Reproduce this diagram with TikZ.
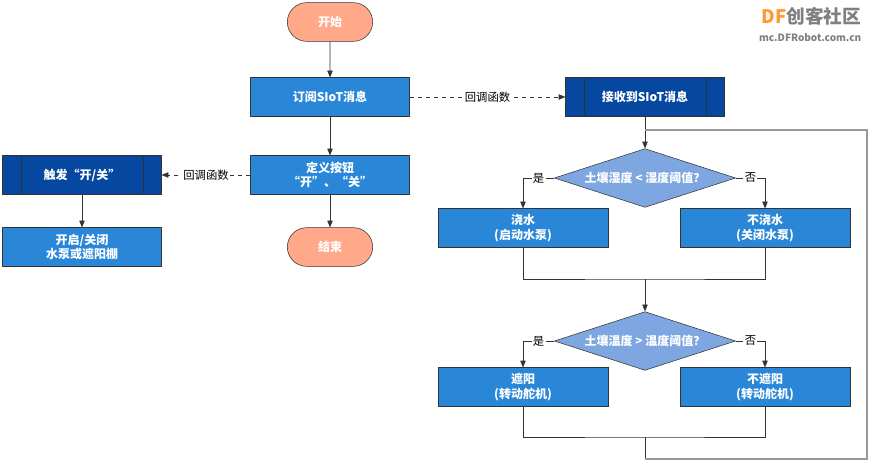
\documentclass[tikz,border=0pt]{standalone}
\usepackage{fontspec}
\setmainfont{Noto Sans CJK SC}
\usetikzlibrary{positioning}
\usetikzlibrary{shapes.geometric}
\usetikzlibrary{shapes.misc}
\usetikzlibrary{arrows.meta}
\definecolor{boxblue}{RGB}{42,135,216}
\definecolor{darkblue}{RGB}{6,72,160}
\definecolor{salmon}{RGB}{255,169,138}
\definecolor{diablue}{RGB}{126,166,224}
\definecolor{edgegray}{RGB}{51,51,51}
\tikzset{
    proc/.style={
        rectangle,              % 普通处理框
        fill=boxblue,
        draw=edgegray,
        text=white,
        align=center,
        font=\fontsize{9}{11}\selectfont\bfseries,
        minimum width=119pt,
        minimum height=29pt,
        inner sep=0
    },
    subproc/.style={
        proc,                   % 预定义过程
        fill=darkblue
    },
    term/.style={
        rounded rectangle,      % 开始/结束
        fill=salmon,
        draw=edgegray,
        text=white,
        font=\fontsize{9}{11}\selectfont\bfseries,
        minimum width=64pt,
        minimum height=29pt,
        inner sep=0
    },
    judge/.style={
        diamond,                % 判断框
        fill=diablue,
        draw=edgegray,
        text=white,
        font=\fontsize{9}{11}\selectfont\bfseries,
        aspect=3.1,
        inner sep=-6pt,
        minimum width=136pt,
        minimum height=44pt
    },
    link/.style={draw=edgegray, -{Triangle[length=5pt,width=4pt]}},
    loopline/.style={draw=gray!80, line width=0.8pt},
    lab/.style={fill=white, inner sep=1pt, font=\fontsize{8.5}{10}\selectfont}
}

\begin{document}
\begin{tikzpicture}[x=0.75pt, y=-0.75pt]
\useasboundingbox (0,0) rectangle (870,466);

% 主流程
\node[term] (start) at (330,22) {开始};
\node[proc] (sub) at (330,97) {订阅SIoT消息};
\node[proc] (define) at (330,175) {定义按钮\\“开”、“关”};
\node[term] (stop) at (330,247) {结束};

% 按钮回调
\node[subproc] (trigger) at (82,175) {触发“开/关”};
\node[proc] (switch) at (82,247) {开启/关闭\\水泵或遮阳棚};

% 消息回调
\node[subproc] (recv) at (645,97) {接收到SIoT消息};
\node[judge] (d1) at (645,178) {土壤湿度 < 湿度阈值？};
\node[proc, minimum width=127.5pt] (water) at (523,228) {浇水\\(启动水泵)};
\node[proc, minimum width=127.5pt] (nowater) at (765,228) {不浇水\\(关闭水泵)};
\node[judge] (d2) at (645,341) {土壤温度 > 温度阈值？};
\node[proc, minimum width=127.5pt] (shade) at (523,387) {遮阳\\(转动舵机)};
\node[proc, minimum width=127.5pt] (noshade) at (765,387) {不遮阳\\(转动舵机)};

% 预定义过程的竖线
\foreach \n in {trigger, recv}{
    \draw[edgegray] ([xshift=14pt]\n.north west) -- ([xshift=14pt]\n.south west);
    \draw[edgegray] ([xshift=-14pt]\n.north east) -- ([xshift=-14pt]\n.south east);
}

\coordinate (M1) at (645,279);
\coordinate (M2) at (645,437);
\coordinate (L0) at (645,459);
\coordinate (L1) at (867,459);
\coordinate (L2) at (867,130);
\coordinate (L3) at (645,130);

\draw[link] (start) -- (sub);
\draw[link] (sub) -- (define);
\draw[link] (define) -- (stop);
\draw[link] (trigger) -- (switch);
\draw[link, dashed] (sub) -- node[lab] {回调函数} (recv);
\draw[link, dashed] (define) -- node[lab] {回调函数} (trigger);

\draw[link] (recv) -- (d1);
\draw[link] (d1.west) -- node[lab] {是} (d1.west -| water) -- (water);
\draw[link] (d1.east) -- node[lab] {否} (d1.east -| nowater) -- (nowater);
\draw[edgegray] (water) |- (M1) -| (nowater);
\draw[link] (M1) -- (d2);
\draw[link] (d2.west) -- node[lab] {是} (d2.west -| shade) -- (shade);
\draw[link] (d2.east) -- node[lab] {否} (d2.east -| noshade) -- (noshade);
\draw[edgegray] (shade) |- (M2) -| (noshade);

% 回到判断
\draw[edgegray] (M2) -- (L0);
\draw[loopline] (L0) -- (L1) -- (L2) -- (L3);

% 水印
\node[anchor=east, font=\fontsize{14}{16}\selectfont\bfseries] (logo) at (866,16)
    {\textcolor{orange!80}{DF}\textcolor{gray}{创客社区}};
\node[anchor=east, font=\fontsize{7.5}{9}\selectfont\bfseries, text=gray] (site) at (866,38) {mc.DFRobot.com.cn};
\end{tikzpicture}
\end{document}
